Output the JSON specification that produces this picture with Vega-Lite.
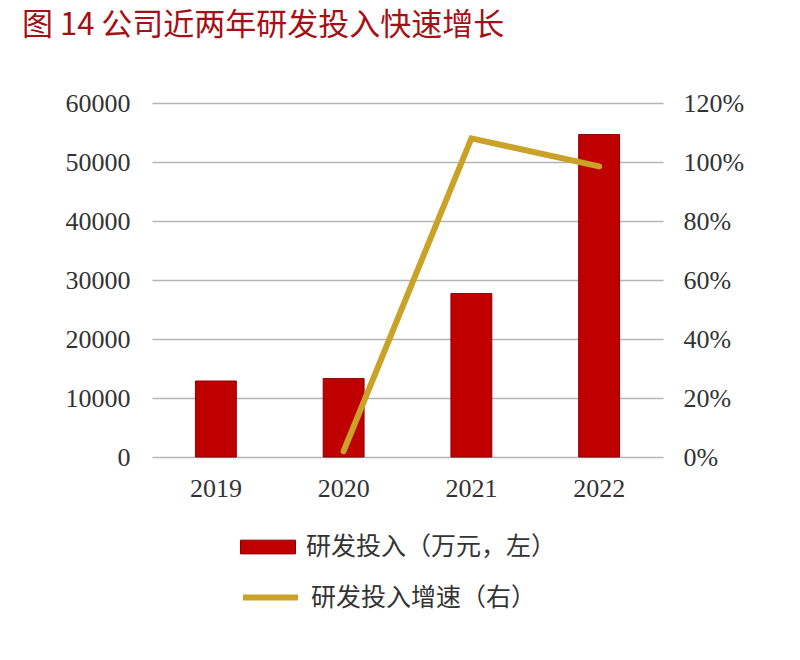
{
  "$schema": "https://vega.github.io/schema/vega-lite/v6.json",
  "width": 511,
  "height": 354,
  "autosize": {"type": "none"},
  "padding": {"left": 152, "top": 103, "right": 137, "bottom": 203},
  "background": "#ffffff",
  "title": {
    "text": "图 14  公司近两年研发投入快速增长",
    "anchor": "start",
    "frame": "group",
    "dx": -130,
    "offset": 48,
    "font": "Noto Sans CJK SC",
    "fontSize": 31,
    "fontWeight": "normal",
    "color": "#A50F15"
  },
  "data": {
    "values": [
      {"year": "2019", "rd": 12880, "growth": null},
      {"year": "2020", "rd": 13290, "growth": 0.02},
      {"year": "2021", "rd": 27700, "growth": 1.08},
      {"year": "2022", "rd": 54650, "growth": 0.985}
    ]
  },
  "encoding": {
    "x": {
      "field": "year",
      "type": "nominal",
      "scale": {"paddingInner": 0, "paddingOuter": 0},
      "axis": {
        "title": null,
        "labelAngle": 0,
        "domain": false,
        "ticks": false,
        "labelPadding": 18,
        "labelFont": "Liberation Serif",
        "labelFontSize": 26,
        "labelColor": "#333333"
      }
    }
  },
  "layer": [
    {
      "mark": {"type": "bar", "width": {"band": 0.32}, "stroke": "#8B0000", "strokeWidth": 1},
      "encoding": {
        "y": {
          "field": "rd",
          "type": "quantitative",
          "scale": {"domain": [0, 60000]},
          "axis": {
            "title": null,
            "values": [0, 10000, 20000, 30000, 40000, 50000, 60000],
            "format": "d",
            "domain": false,
            "ticks": false,
            "grid": true,
            "gridColor": "#b4b4b4",
            "gridWidth": 1.5,
            "labelPadding": 22,
            "labelFont": "Liberation Serif",
            "labelFontSize": 26,
            "labelColor": "#333333"
          }
        },
        "fill": {
          "datum": "研发投入（万元，左）",
          "scale": {"range": ["#C00000"]},
          "legend": {
            "orient": "none",
            "legendX": 88,
            "legendY": 416,
            "title": null,
            "padding": 0,
            "symbolType": "M-1,-0.25H1V0.25H-1Z",
            "symbolSize": 3025,
            "symbolStrokeColor": "#8B0000",
            "symbolStrokeWidth": 1,
            "labelOffset": 10,
            "labelLimit": 0,
            "labelFont": "Noto Sans CJK SC",
            "labelFontSize": 25,
            "labelColor": "#333333"
          }
        }
      }
    },
    {
      "transform": [{"filter": "datum.growth != null"}],
      "mark": {"type": "line", "strokeWidth": 6, "strokeCap": "round", "strokeJoin": "miter"},
      "encoding": {
        "y": {
          "field": "growth",
          "type": "quantitative",
          "scale": {"domain": [0, 1.2]},
          "axis": {
            "title": null,
            "orient": "right",
            "values": [0, 0.2, 0.4, 0.6, 0.8, 1.0, 1.2],
            "format": ".0%",
            "domain": false,
            "ticks": false,
            "grid": false,
            "labelPadding": 20,
            "labelFont": "Liberation Serif",
            "labelFontSize": 26,
            "labelColor": "#333333"
          }
        },
        "stroke": {
          "datum": "研发投入增速（右）",
          "scale": {"range": ["#C9A227"]},
          "legend": {
            "orient": "none",
            "legendX": 88,
            "legendY": 464,
            "title": null,
            "padding": 0,
            "symbolType": "stroke",
            "symbolSize": 3025,
            "symbolStrokeWidth": 6,
            "labelOffset": 10,
            "labelLimit": 0,
            "labelFont": "Noto Sans CJK SC",
            "labelFontSize": 25,
            "labelColor": "#333333"
          }
        }
      }
    }
  ],
  "resolve": {"scale": {"y": "independent", "fill": "independent", "stroke": "independent"}},
  "config": {"view": {"stroke": null}}
}
